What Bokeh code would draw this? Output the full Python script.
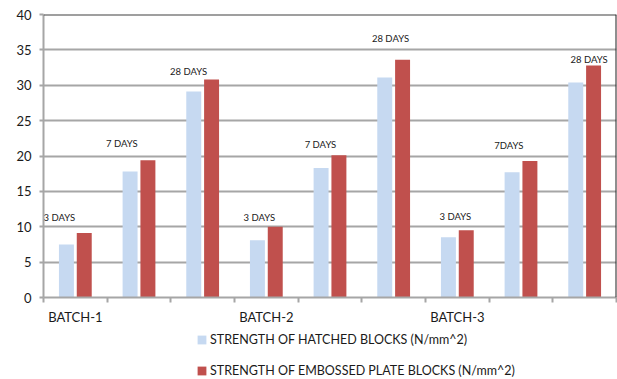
from bokeh.plotting import figure
from bokeh.layouts import column
from bokeh.models import FixedTicker, Span, Legend, LegendItem, ColumnDataSource, Range1d
from bokeh.embed import file_html
from bokeh.resources import INLINE
from bokeh.core.properties import value

# Compressive strength (N/mm^2) per batch and curing age
batches = ["BATCH-1", "BATCH-2", "BATCH-3"]
ages = ["3 DAYS", "7 DAYS", "28 DAYS",
        "3 DAYS", "7 DAYS", "28 DAYS",
        "3 DAYS", "7DAYS", "28 DAYS"]
hatched = [7.5, 17.8, 29.1, 8.1, 18.3, 31.1, 8.5, 17.7, 30.4]
embossed = [9.1, 19.4, 30.8, 10.0, 20.1, 33.6, 9.5, 19.3, 32.8]
y_ticks = [0, 5, 10, 15, 20, 25, 30, 35, 40]
series_names = ["STRENGTH OF HATCHED BLOCKS (N/mm^2)",
                "STRENGTH OF EMBOSSED PLATE BLOCKS (N/mm^2)"]

# where the age captions sit (hand placed, in data units)
age_label_x = [0.25, 1.23, 2.28, 3.39, 4.35, 5.45, 6.47, 7.31, 8.57]
age_label_y = [11.3, 21.7, 31.9, 11.3, 21.6, 36.6, 11.5, 21.5, 33.7]

FONT = "Lato"
GRID = "#a6a6a6"
TEXT = "#1a1a1a"
BLUE = "#c6d9f1"
RED = "#c0504d"
W, H_MAIN, H_LEG = 617, 328, 51

n = len(hatched)
centers = [i + 0.5 for i in range(n)]

src = ColumnDataSource(dict(
    xh=[c - 0.14 for c in centers],
    xe=[c + 0.14 for c in centers],
    hatched=hatched,
    embossed=embossed,
))

p = figure(width=W, height=H_MAIN, x_range=Range1d(0, n), y_range=Range1d(0, 40),
           output_backend="svg", toolbar_location=None,
           min_border_left=43, min_border_right=1, min_border_top=14,
           min_border_bottom=H_MAIN - 297)
p.outline_line_color = None
p.background_fill_color = "white"
p.border_fill_color = "white"

p.vbar(x="xh", top="hatched", width=0.235, source=src, fill_color=BLUE, line_color=None)
p.vbar(x="xe", top="embossed", width=0.235, source=src, fill_color=RED, line_color=None)

p.text(x=age_label_x, y=age_label_y, text=ages, text_font=value(FONT),
       text_font_size="9.5px", text_align="center", text_baseline="middle",
       text_color=TEXT)

# grid
p.xgrid.visible = False
p.ygrid.ticker = FixedTicker(ticks=y_ticks)
p.ygrid.grid_line_color = GRID
p.ygrid.grid_line_width = 2

# y axis
yax = p.yaxis[0]
yax.ticker = FixedTicker(ticks=y_ticks)
yax.axis_line_color = GRID
yax.axis_line_width = 2
yax.major_tick_line_color = GRID
yax.major_tick_line_width = 2
yax.major_tick_in = 0
yax.major_tick_out = 4
yax.minor_tick_line_color = None
yax.major_label_standoff = 8
yax.major_label_text_font = FONT
yax.major_label_text_font_size = "13px"
yax.major_label_text_color = TEXT

# x axis: batch names centred on groups, ticks at category boundaries
xax = p.xaxis[0]
xax.ticker = FixedTicker(ticks=[centers[0], centers[3], centers[6]],
                         minor_ticks=list(range(n + 1)))
xax.major_label_overrides = {centers[0]: batches[0], centers[3]: batches[1],
                             centers[6]: batches[2]}
xax.axis_line_color = GRID
xax.axis_line_width = 2
xax.major_tick_line_color = None
xax.major_tick_in = 0
xax.major_tick_out = 0
xax.minor_tick_line_color = GRID
xax.minor_tick_line_width = 2
xax.minor_tick_in = 0
xax.minor_tick_out = 5
xax.major_label_standoff = 6
xax.major_label_text_font = FONT
xax.major_label_text_font_size = "13px"
xax.major_label_text_color = TEXT

# dark top and right frame edges
p.add_layout(Span(location=40, dimension="width", line_color="#404040", line_width=2))
p.add_layout(Span(location=n, dimension="height", line_color="#202020", line_width=2))

# legend strip underneath the chart (its frame lines up with the chart frame)
leg = figure(width=W, height=H_LEG, x_range=Range1d(0, 1), y_range=Range1d(0, 1),
             output_backend="svg", toolbar_location=None,
             x_axis_type=None, y_axis_type=None,
             min_border_left=43, min_border_right=1, min_border_top=0, min_border_bottom=0)
leg.outline_line_color = None
leg.background_fill_color = "white"
leg.border_fill_color = "white"
leg.xgrid.visible = False
leg.ygrid.visible = False
# swatch renderers: zero-height bars, only used for the legend keys
key_src = ColumnDataSource(dict(x=[0.5], top=[0.0]))
s1 = leg.vbar(x="x", top="top", width=0.0, source=key_src, fill_color=BLUE, line_color=None)
s2 = leg.vbar(x="x", top="top", width=0.0, source=key_src, fill_color=RED, line_color=None)

legend = Legend(items=[LegendItem(label=series_names[0], renderers=[s1]),
                       LegendItem(label=series_names[1], renderers=[s2])],
                location=(153, 1))
legend.glyph_width = 11
legend.glyph_height = 11
legend.label_height = 11
legend.label_standoff = 3
legend.label_text_font = FONT
legend.label_text_font_size = "12.5px"
legend.label_text_color = TEXT
legend.spacing = 16
legend.padding = 0
legend.margin = 0
legend.border_line_color = None
legend.background_fill_alpha = 0
leg.add_layout(legend, "center")

layout = column(p, leg, spacing=0)
open("out.html", "w").write(file_html(layout, INLINE))
